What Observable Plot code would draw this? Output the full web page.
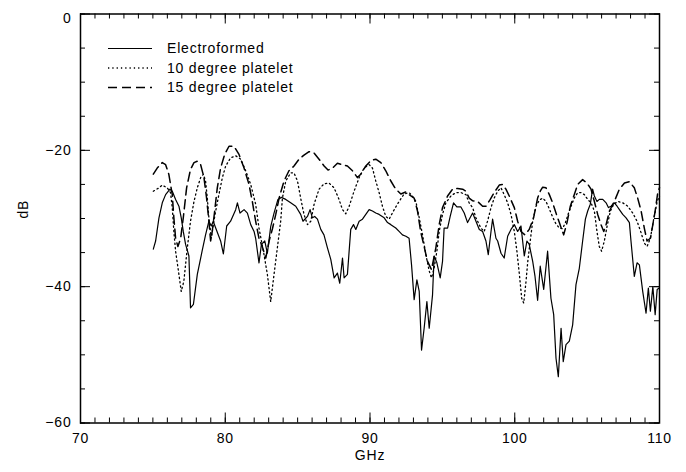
<!DOCTYPE html>
<html>
<head>
<meta charset="utf-8">
<script src="https://cdn.jsdelivr.net/npm/d3@7"></script>
<script src="https://cdn.jsdelivr.net/npm/@observablehq/plot@0.6"></script>
<style>
  html, body { margin: 0; padding: 0; background: #fff; }
</style>
</head>
<body>
<div id="chart"></div>
<script>
// ---------- data ----------
const seriesNames = ["Electroformed", "10 degree platelet", "15 degree platelet"];

const electroX = [75.03,75.19,75.42,75.65,75.88,76.18,76.34,76.57,76.8,76.96,77.1,77.26,77.49,77.6,77.8,78.07,78.4,78.64,78.87,79.04,79.17,79.34,79.68,79.87,80.1,80.37,80.72,80.84,81.02,81.3,81.53,81.76,81.99,82.1,82.33,82.5,82.73,82.91,83.14,83.37,83.64,83.88,84.18,84.52,84.87,85.21,85.37,85.68,85.86,86.02,86.18,86.37,86.6,86.82,87.06,87.29,87.52,87.75,87.91,88.1,88.21,88.44,88.67,88.86,89.02,89.25,89.48,89.71,89.94,90.17,90.4,90.63,90.98,91.21,91.44,91.78,92.01,92.24,92.48,92.7,92.87,93.05,93.24,93.4,93.56,93.74,93.93,94.09,94.32,94.43,94.62,94.85,95.01,95.12,95.36,95.54,95.77,96.0,96.28,96.51,96.74,97.09,97.32,97.55,97.78,98.01,98.17,98.36,98.47,98.7,98.82,99.05,99.27,99.51,99.74,99.97,100.2,100.43,100.66,100.84,101.0,101.24,101.4,101.58,101.76,102.0,102.27,102.5,102.69,102.85,103.01,103.2,103.35,103.54,103.77,104.0,104.23,104.46,104.69,104.88,105.04,105.22,105.38,105.5,105.68,105.84,106.08,106.31,106.47,106.65,106.88,107.07,107.23,107.46,107.69,107.92,108.03,108.26,108.45,108.61,108.84,109.07,109.23,109.37,109.54,109.7,109.84,109.98];
const electroY = [-34.5,-33.3,-29.9,-27.7,-26.5,-25.7,-26.0,-27.2,-28.2,-29.9,-31.9,-33.8,-35.5,-43.1,-42.6,-38.2,-34.8,-32.4,-30.4,-31.1,-30.4,-31.4,-33.3,-35.2,-31.1,-30.4,-28.7,-27.7,-29.2,-28.7,-29.2,-30.9,-31.9,-32.9,-36.5,-33.8,-33.3,-35.1,-31.2,-29.2,-27.2,-26.9,-27.2,-27.7,-28.2,-29.4,-30.4,-29.7,-28.7,-29.9,-29.7,-30.1,-31.6,-32.4,-34.3,-36.0,-38.7,-38.0,-39.5,-35.8,-38.7,-38.2,-31.6,-30.9,-31.6,-30.4,-30.1,-29.4,-28.7,-28.9,-29.2,-29.4,-29.9,-30.6,-30.9,-31.4,-31.9,-32.4,-32.6,-32.9,-36.8,-41.9,-39.0,-40.7,-49.3,-46.1,-42.2,-46.1,-41.2,-35.5,-36.5,-38.7,-36.3,-31.4,-31.4,-29.7,-27.7,-28.3,-28.3,-29.2,-30.6,-29.2,-30.4,-31.6,-31.9,-33.3,-35.3,-31.9,-30.1,-32.9,-33.3,-35.1,-35.8,-32.6,-31.6,-30.9,-31.9,-31.1,-35.5,-33.3,-33.8,-36.3,-38.5,-42.0,-37.0,-40.4,-34.8,-41.7,-44.1,-50.5,-53.2,-46.1,-51.0,-48.5,-48.0,-45.6,-39.7,-37.3,-33.3,-30.1,-28.9,-27.9,-25.7,-26.7,-27.5,-27.2,-27.2,-27.7,-28.4,-28.2,-27.7,-28.2,-28.7,-29.4,-29.9,-30.6,-33.3,-38.5,-36.5,-36.8,-40.7,-43.9,-40.2,-43.6,-40.0,-44.1,-40.4,-40.2];

const deg10X = [75.03,75.42,75.65,75.99,76.22,76.34,76.45,76.57,76.8,76.96,77.14,77.38,77.6,77.84,78.07,78.3,78.49,78.64,78.76,78.87,79.04,79.17,79.34,79.56,79.8,80.03,80.37,80.72,81.07,81.41,81.76,82.1,82.33,82.68,82.91,83.14,83.37,83.6,83.83,83.95,84.18,84.52,84.75,84.99,85.21,85.44,85.68,85.91,86.14,86.48,86.83,87.17,87.52,87.86,88.1,88.33,88.56,88.9,89.25,89.59,89.94,90.17,90.4,90.63,90.86,91.09,91.32,91.67,92.01,92.36,92.7,92.93,93.17,93.4,93.63,93.86,94.09,94.25,94.43,94.62,94.78,95.01,95.24,95.59,95.93,96.28,96.63,96.85,97.09,97.32,97.66,97.89,98.12,98.36,98.58,98.82,99.05,99.27,99.51,99.74,99.97,100.15,100.32,100.48,100.62,100.78,100.9,101.07,101.24,101.47,101.7,101.93,102.16,102.39,102.62,102.85,103.08,103.3,103.5,103.7,103.89,104.11,104.35,104.58,104.81,105.04,105.27,105.5,105.68,105.84,106.0,106.19,106.38,106.61,106.84,107.12,107.46,107.81,108.15,108.45,108.73,108.95,109.14,109.37,109.6,109.84,110.0];
const deg10Y = [-26.0,-25.5,-25.1,-25.5,-26.2,-28.4,-31.9,-34.8,-38.2,-40.7,-39.2,-34.3,-30.4,-27.5,-25.5,-24.0,-23.5,-24.5,-27.0,-29.9,-32.9,-30.9,-28.9,-26.5,-24.0,-22.3,-21.1,-20.8,-21.3,-23.0,-25.0,-27.9,-31.4,-35.3,-38.2,-42.2,-38.2,-34.3,-30.4,-27.0,-24.5,-23.3,-23.3,-24.5,-27.0,-29.4,-30.9,-30.4,-27.9,-25.7,-24.9,-24.8,-25.5,-27.2,-28.7,-29.3,-28.2,-26.0,-24.0,-22.6,-22.1,-22.6,-24.5,-26.2,-28.2,-29.7,-30.1,-28.7,-27.5,-26.4,-26.2,-26.7,-27.5,-29.9,-32.4,-35.3,-37.7,-38.7,-37.3,-34.8,-31.9,-29.4,-27.7,-26.7,-26.2,-26.2,-26.5,-27.7,-28.4,-29.9,-31.4,-31.9,-30.4,-28.4,-27.0,-26.0,-25.5,-26.5,-27.7,-29.4,-31.9,-34.8,-38.2,-41.7,-42.4,-39.2,-36.3,-33.3,-30.4,-28.2,-27.3,-27.0,-27.5,-28.6,-29.8,-30.8,-31.4,-31.5,-30.6,-29.3,-28.2,-27.0,-26.2,-26.2,-26.5,-27.2,-27.7,-28.9,-31.9,-34.1,-34.8,-33.3,-31.1,-28.9,-27.9,-27.5,-27.7,-28.2,-29.2,-30.4,-32.1,-33.6,-34.1,-32.9,-30.1,-27.5,-26.7];

const deg15X = [75.03,75.3,75.65,75.88,76.1,76.34,76.45,76.57,76.73,76.92,77.1,77.33,77.6,77.84,78.07,78.3,78.53,78.71,78.87,78.99,79.1,79.27,79.45,79.68,79.96,80.26,80.6,80.95,81.3,81.64,81.87,82.1,82.33,82.57,82.8,83.03,83.26,83.49,83.72,84.06,84.4,84.75,85.1,85.44,85.79,86.14,86.48,86.83,87.1,87.41,87.75,88.1,88.44,88.79,89.13,89.36,89.71,90.06,90.4,90.75,91.09,91.44,91.78,92.13,92.48,92.7,93.05,93.28,93.5,93.74,93.97,94.25,94.55,94.78,95.01,95.36,95.7,96.05,96.4,96.63,96.85,97.1,97.43,97.78,98.01,98.31,98.58,98.93,99.16,99.39,99.62,99.97,100.2,100.43,100.7,101.0,101.3,101.58,101.76,101.93,102.16,102.39,102.62,102.85,103.08,103.38,103.61,103.84,104.11,104.35,104.69,104.99,105.27,105.5,105.73,105.96,106.15,106.31,106.54,106.88,107.23,107.58,107.92,108.26,108.49,108.73,108.95,109.14,109.37,109.54,109.7,109.88,110.0];
const deg15Y = [-23.5,-22.6,-21.8,-22.1,-23.5,-26.5,-29.9,-32.9,-34.1,-32.9,-29.9,-25.5,-22.8,-21.8,-21.6,-22.1,-24.0,-27.0,-30.4,-33.3,-31.9,-28.9,-25.5,-22.6,-20.6,-19.4,-19.4,-20.6,-22.6,-25.0,-27.5,-30.4,-32.9,-34.2,-35.8,-33.3,-31.5,-29.4,-27.0,-24.5,-23.0,-22.3,-21.3,-20.7,-20.2,-20.4,-21.3,-22.3,-22.9,-22.6,-21.9,-22.1,-22.3,-23.0,-24.0,-23.5,-22.3,-21.5,-21.3,-21.8,-23.0,-24.5,-25.7,-26.4,-26.1,-26.5,-27.0,-28.9,-31.9,-34.1,-36.3,-37.5,-34.3,-30.9,-28.4,-26.7,-25.7,-25.6,-25.7,-26.0,-27.0,-27.4,-27.5,-28.2,-28.2,-27.2,-26.2,-25.1,-25.0,-25.7,-26.7,-28.4,-30.4,-31.9,-32.4,-31.6,-29.9,-27.0,-26.0,-25.4,-25.5,-26.5,-27.7,-29.2,-30.6,-32.4,-30.6,-28.2,-26.5,-25.0,-24.3,-24.8,-25.7,-27.5,-29.4,-30.9,-31.9,-30.9,-28.9,-27.5,-25.7,-24.8,-24.6,-25.5,-27.0,-28.9,-31.4,-33.3,-32.9,-30.9,-28.9,-26.2,-25.5];

const xMajorTicks = [70, 80, 90, 100, 110];
const xMinorTicks = d3.range(70, 111, 1);
const yMajorTicks = [-60, -40, -20, 0];
const yMinorTicks = d3.range(-60, 1, 5);

// ---------- layout ----------
const W = 686, H = 472;
const mTop = 13.5, mBottom = 49.5, mLeft = 80, mRight = 27;
const innerH = H - mTop - mBottom;
const innerW = W - mLeft - mRight;
const FONT = "'Liberation Sans', Arial, Helvetica, sans-serif";
const fmt = d3.format("d"); // uses the true minus sign (U+2212)

const styles = [
  {strokeWidth: 1.2, dash: null},
  {strokeWidth: 1.3, dash: "1.3,3"},
  {strokeWidth: 1.5, dash: "9,5"}
];

const toRows = (xs, ys, name) => xs.map((x, i) => ({x, y: ys[i], series: name}));
const rows = [
  toRows(electroX, electroY, seriesNames[0]),
  toRows(deg10X, deg10Y, seriesNames[1]),
  toRows(deg15X, deg15Y, seriesNames[2])
];

const majLen = 10, minLen = 5;

const chart = Plot.plot({
  width: W,
  height: H,
  marginTop: mTop,
  marginBottom: mBottom,
  marginLeft: mLeft,
  marginRight: mRight,
  style: {fontFamily: FONT, fontSize: "14px", background: "#fff", color: "#000", letterSpacing: "0.8px"},
  x: {domain: [70, 110], ticks: xMajorTicks, tickSize: 0, tickPadding: 10, label: null, tickFormat: fmt},
  y: {domain: [-60, 0], ticks: yMajorTicks, tickSize: 0, tickPadding: 9, label: null, tickFormat: fmt},
  marks: [
    // inward ticks on all four sides
    Plot.tickX(xMinorTicks, {x: d => d, insetTop: innerH - minLen, stroke: "#000", strokeWidth: 1}),
    Plot.tickX(xMinorTicks, {x: d => d, insetBottom: innerH - minLen, stroke: "#000", strokeWidth: 1}),
    Plot.tickX(xMajorTicks, {x: d => d, insetTop: innerH - majLen, stroke: "#000", strokeWidth: 1}),
    Plot.tickX(xMajorTicks, {x: d => d, insetBottom: innerH - majLen, stroke: "#000", strokeWidth: 1}),
    Plot.tickY(yMinorTicks, {y: d => d, insetRight: innerW - minLen, stroke: "#000", strokeWidth: 1}),
    Plot.tickY(yMinorTicks, {y: d => d, insetLeft: innerW - minLen, stroke: "#000", strokeWidth: 1}),
    Plot.tickY(yMajorTicks, {y: d => d, insetRight: innerW - majLen, stroke: "#000", strokeWidth: 1}),
    Plot.tickY(yMajorTicks, {y: d => d, insetLeft: innerW - majLen, stroke: "#000", strokeWidth: 1}),
    ...rows.map((r, i) => Plot.line(r, {
      x: "x", y: "y", stroke: "#000",
      strokeWidth: styles[i].strokeWidth,
      strokeDasharray: styles[i].dash,
      strokeLinejoin: "round"
    })),
    Plot.frame({stroke: "#000", strokeWidth: 1.5}),
    Plot.text(["GHz"], {frameAnchor: "bottom", dy: 37, text: d => d, fontSize: 14, fill: "#000"}),
    Plot.text(["dB"], {frameAnchor: "left", dx: -57, rotate: -90, text: d => d, fontSize: 14, fill: "#000"})
  ]
});

const svg = d3.select(chart);

// the "0" tick label sits a little below its tick in the reference
svg.selectAll("text").filter(function() { return this.textContent === "0"; })
  .attr("dy", 5);

// legend inside the plot area (pixel layout)
const lg = svg.append("g");
const legendX0 = 108, legendX1 = 152, legendTextX = 167, legendY0 = 48.5, legendDY = 19.5;
seriesNames.forEach((name, i) => {
  const y = legendY0 + i * legendDY;
  lg.append("line")
    .attr("x1", legendX0).attr("x2", legendX1)
    .attr("y1", y).attr("y2", y)
    .attr("stroke", "#000")
    .attr("stroke-width", styles[i].strokeWidth)
    .attr("stroke-dasharray", styles[i].dash);
  lg.append("text")
    .attr("x", legendTextX).attr("y", y).attr("dy", "0.35em")
    .style("font-family", FONT)
    .style("font-size", "14px")
    .style("letter-spacing", "0.8px")
    .style("text-anchor", "start")
    .attr("fill", "#000")
    .text(name);
});

document.getElementById("chart").appendChild(chart);
</script>
</body>
</html>
